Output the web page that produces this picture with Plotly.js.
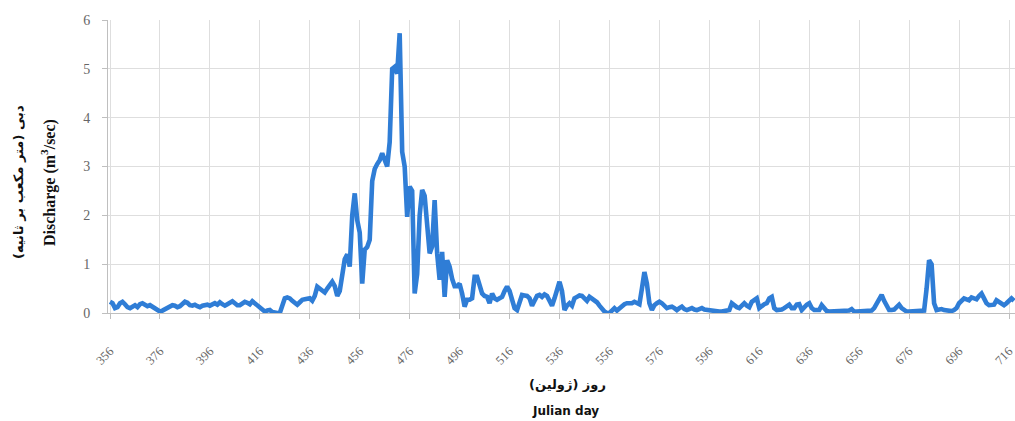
<!DOCTYPE html>
<html>
<head>
<meta charset="utf-8">
<script src="https://cdn.plot.ly/plotly-3.0.1.min.js"></script>
<style>html,body{margin:0;padding:0;background:#fff;}#chart{width:1015px;height:421px;}</style>
</head>
<body>
<div id="chart"></div>
<script>
// Julian day start and daily discharge values (m3/s)
var startDay = 356;
var discharge = [
 0.23,0.2,0.1,0.12,0.2,0.23,0.18,0.12,0.1,0.14,
 0.16,0.12,0.18,0.2,0.17,0.14,0.16,0.12,0.08,0.06,
 0.03,0.05,0.08,0.1,0.12,0.16,0.15,0.12,0.14,0.2,
 0.23,0.21,0.16,0.15,0.17,0.14,0.12,0.15,0.16,0.17,
 0.15,0.18,0.2,0.17,0.22,0.18,0.15,0.18,0.2,0.24,
 0.2,0.16,0.16,0.2,0.23,0.21,0.18,0.24,0.2,0.15,
 0.1,0.06,0.03,0.05,0.06,0.02,0,0,0,0.15,
 0.3,0.32,0.3,0.25,0.2,0.17,0.22,0.27,0.28,0.3,
 0.3,0.25,0.35,0.54,0.5,0.45,0.42,0.5,0.57,0.64,
 0.55,0.35,0.45,0.8,1.1,1.2,
 0.95,2.0,2.45,1.9,1.65,0.6,1.3,1.35,1.5,2.7,
 2.95,3.05,3.13,3.27,3.1,3.0,3.5,5.0,5.04,4.9,
 5.73,3.3,3.0,1.97,2.59,2.5,0.4,0.8,2.0,2.52,
 2.4,1.9,1.22,1.36,2.31,1.22,0.68,1.25,0.33,1.08,
 0.95,0.7,0.55,0.55,0.6,0.4,0.13,0.27,0.27,0.3,
 0.74,0.74,0.6,0.4,0.35,0.33,0.2,0.4,0.3,0.27,
 0.3,0.33,0.45,0.54,
 0.45,0.3,0.1,0.06,0.25,0.37,0.36,0.35,0.3,0.15,
 0.25,0.35,0.37,0.33,0.38,0.35,0.25,0.15,0.3,0.5,
 0.64,0.45,0.06,0.15,0.2,0.15,0.3,0.33,0.36,0.35,
 0.3,0.25,0.33,0.3,0.25,0.22,0.15,0.08,0.03,0,
 0,0.05,0.1,0.05,0.1,0.15,0.18,0.2,0.2,0.2,
 0.23,0.2,0.18,0.5,0.84,0.6,0.2,0.06,0.16,0.2,
 0.23,0.2,0.15,0.1,0.12,0.13,0.1,0.06,0.1,0.13,
 0.08,0.06,0.08,0.1,0.07,0.06,0.08,0.1,0.07,0.06,
 0.06,0.05,0.05,0.03,0.03,0.03,0.04,0.05,0.06,0.2,
 0.15,0.12,0.1,0.15,0.2,0.15,0.12,0.23,0.27,0.3,
 0.1,0.15,0.18,0.2,0.3,0.33,0.1,0.06,0.06,0.07,
 0.1,0.15,0.17,0.1,0.1,0.17,0.18,0.06,0.12,0.17,
 0.2,0.1,0.06,0.06,0.06,0.16,0.1,0.04,0.03,0.03,
 0.03,0.03,0.03,0.03,0.03,0.03,0.05,0.08,0.03,0.03,
 0.03,0.03,0.03,0.03,0.03,0.05,0.1,0.2,0.27,0.37,
 0.25,0.15,0.06,0.06,0.07,0.12,0.17,0.1,0.05,0.03,
 0.03,0.03,0.03,0.03,0.03,0.03,0.05,0.5,1.08,1.0,
 0.2,0.06,0.07,0.08,0.06,0.05,0.03,0.04,0.06,0.1,
 0.2,0.27,0.3,0.28,0.26,0.32,0.3,0.28,0.35,0.4,
 0.3,0.2,0.16,0.16,0.17,0.26,0.23,0.2,0.16,0.2,
 0.27,0.3,0.25
];
var xTicks = [356,376,396,416,436,456,476,496,516,536,556,576,596,616,636,656,676,696,716];
var yTicks = [0,1,2,3,4,5,6];

var titleYFa = 'دبی (متر مکعب بر ثانیه)';
var titleYEn = 'Discharge (m<sup>3</sup>/sec)';
var titleXFa = 'روز (ژولین)';
var titleXEn = 'Julian day';

var days = discharge.map(function(_, i){ return startDay + i; });

var trace = {
  x: days, y: discharge, type: 'scatter', mode: 'lines',
  line: {color: '#2F7DD6', width: 4.6},
  cliponaxis: false, hoverinfo: 'skip'
};

var serif = 'Liberation Serif, Times New Roman, serif';
var layout = {
  width: 1015, height: 421,
  margin: {l: 108, r: 0, t: 20, b: 108, pad: 0},
  paper_bgcolor: '#fff', plot_bgcolor: '#fff',
  showlegend: false,
  xaxis: {
    range: [355.2, 718.4], tickvals: xTicks, ticktext: xTicks.map(String),
    tickangle: -45, tickfont: {family: serif, size: 12.5, color: '#666'},
    ticklabelstandoff: 20, ticklabeloverflow: 'allow',
    showgrid: true, gridcolor: '#dedede', gridwidth: 1,
    showline: true, linecolor: '#bfbfbf', linewidth: 1,
    ticks: 'outside', ticklen: 5, tickcolor: '#bfbfbf',
    zeroline: false, fixedrange: true
  },
  yaxis: {
    range: [0, 6], tickvals: yTicks,
    tickfont: {family: serif, size: 14, color: '#666'},
    showgrid: true, gridcolor: '#dedede', gridwidth: 1,
    showline: true, linecolor: '#bfbfbf', linewidth: 1,
    ticks: 'outside', ticklen: 5, tickcolor: '#bfbfbf',
    ticklabelstandoff: 9,
    zeroline: false, fixedrange: true
  },
  annotations: [
    {text: '<b>' + titleYFa + '</b>', xref: 'paper', yref: 'paper', x: -0.0992, y: 0.447, xanchor: 'center', yanchor: 'middle',
     textangle: -90, showarrow: false, font: {family: 'DejaVu Sans, sans-serif', size: 13, color: '#111'}},
    {text: '<b>' + titleYEn + '</b>', xref: 'paper', yref: 'paper', x: -0.0662, y: 0.447, xanchor: 'center', yanchor: 'middle',
     textangle: -90, showarrow: false, font: {family: serif, size: 16, color: '#111'}},
    {text: '<b>' + titleXFa + '</b>', xref: 'paper', yref: 'paper', x: 0.507, y: -0.243, xanchor: 'center', yanchor: 'middle',
     showarrow: false, font: {family: 'DejaVu Sans, sans-serif', size: 13, color: '#111'}},
    {text: '<b>' + titleXEn + '</b>', xref: 'paper', yref: 'paper', x: 0.504, y: -0.335, xanchor: 'center', yanchor: 'middle',
     showarrow: false, font: {family: 'DejaVu Sans, sans-serif', size: 12, color: '#111'}}
  ]
};

Plotly.newPlot('chart', [trace], layout, {displayModeBar: false, staticPlot: true});
</script>
</body>
</html>
